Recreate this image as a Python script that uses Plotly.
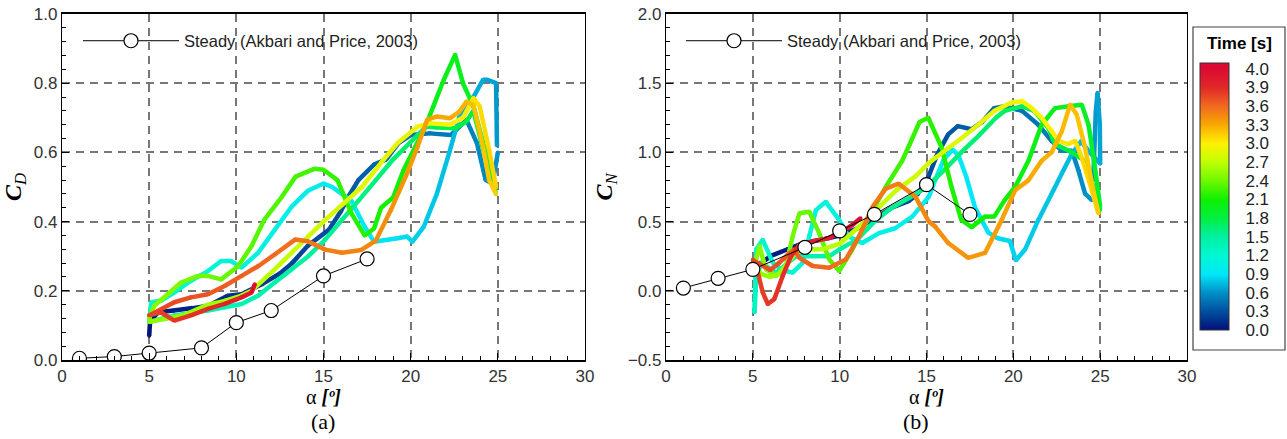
import numpy as np
import plotly.graph_objects as go

# ---------------- data ----------------
TIME_LABELS = ["0.0", "0.3", "0.6", "0.9", "1.2", "1.5", "1.8", "2.1",
               "2.4", "2.7", "3.0", "3.3", "3.6", "3.9", "4.0"]
TIME_LEVELS = [0.0, 0.3, 0.6, 0.9, 1.2, 1.5, 1.8, 2.1, 2.4, 2.7, 3.0, 3.3, 3.6, 3.9, 4.0]
LEVEL_COLORS = ["#02107A", "#00509E", "#0090C8", "#00E8F8", "#00F8D0", "#00F0A0",
                "#00F040", "#10F000", "#70F800", "#C0FF00", "#FFF000", "#F8A800",
                "#F06820", "#E02828", "#DC0A32"]

STEADY_ALPHA = [1, 3, 5, 8, 10, 12, 15, 17.5]
STEADY_CD = [0.005, 0.01, 0.02, 0.035, 0.108, 0.143, 0.243, 0.292]
STEADY_CN = [0.02, 0.09, 0.155, 0.314, 0.433, 0.552, 0.767, 0.552]

# time span of each pitching stroke [s]
STROKE_T0 = [0.00, 0.62, 1.25, 1.88, 2.50, 3.13, 3.76]
STROKE_T1 = [0.62, 1.25, 1.88, 2.50, 3.13, 3.76, 4.00]

# ---- drag coefficient, one list per stroke ----
CD_A1 = [5.0, 5.05, 5.5, 6.4, 7.5, 8.4, 9.5, 10.3, 11.5, 12.5, 13.2, 14.1, 15.3, 16.0, 16.4,
         17.0, 17.9, 18.6, 19.3, 20.0, 21.1, 22.3, 23.2, 23.8, 24.3, 24.7, 25.0]
CD_1 = [0.07, 0.11, 0.138, 0.143, 0.15, 0.157, 0.186, 0.19, 0.22, 0.25, 0.28, 0.33, 0.376, 0.43,
        0.47, 0.52, 0.565, 0.58, 0.627, 0.65, 0.655, 0.65, 0.694, 0.627, 0.52, 0.51, 0.6]
CD_A2 = [24.95, 24.9, 24.4, 24.15, 23.6, 22.8, 22.26, 21.5, 20.75, 20.1, 19.8, 19.25, 17.9, 17.36,
         16.6, 15.5, 15.0, 14.13, 13.17, 12.2, 11.25, 10.3, 9.7, 9.13, 8.37, 7.4, 6.44, 5.67, 5.1]
CD_2 = [0.62, 0.8, 0.81, 0.81, 0.76, 0.704, 0.607, 0.48, 0.385, 0.342, 0.357, 0.352, 0.342, 0.385,
        0.46, 0.5, 0.51, 0.49, 0.443, 0.376, 0.31, 0.267, 0.286, 0.286, 0.257, 0.229, 0.195, 0.171, 0.167]
CD_A3 = [5.1, 5.0, 6.44, 8.37, 10.3, 11.25, 12.2, 13.17, 14.13, 15.1, 16.06, 17.0, 18.0, 19.0,
         20.0, 20.9, 21.5, 22.6, 23.2, 23.6, 24.2, 24.9]
CD_3 = [0.16, 0.11, 0.129, 0.143, 0.162, 0.186, 0.224, 0.262, 0.3, 0.348, 0.405, 0.46, 0.52, 0.58,
        0.63, 0.675, 0.672, 0.67, 0.69, 0.72, 0.6, 0.5]
CD_A4 = [24.9, 24.3, 23.6, 23.0, 22.55, 21.9, 21.3, 20.85, 20.3, 19.6, 19.0, 18.3, 17.9, 17.36,
         16.6, 15.8, 15.0, 14.5, 13.4, 12.6, 11.6, 10.87, 10.1, 9.13, 8.37, 7.8, 6.83, 6.06, 5.29, 5.0]
CD_4 = [0.48, 0.6, 0.733, 0.8, 0.882, 0.81, 0.733, 0.675, 0.62, 0.55, 0.47, 0.44, 0.38, 0.36,
        0.424, 0.52, 0.55, 0.553, 0.53, 0.471, 0.405, 0.329, 0.271, 0.233, 0.243, 0.243, 0.224,
        0.19, 0.157, 0.12]
CD_A5 = [5.0, 6.0, 7.0, 8.37, 9.33, 10.3, 10.87, 12.2, 13.17, 14.13, 15.1, 16.06, 17.2, 18.3,
         19.25, 20.4, 21.1, 22.26, 23.0, 23.6, 23.96, 24.5, 24.9]
CD_5 = [0.11, 0.12, 0.13, 0.16, 0.171, 0.186, 0.2, 0.262, 0.31, 0.357, 0.405, 0.448, 0.5, 0.57,
        0.627, 0.675, 0.684, 0.68, 0.7, 0.757, 0.733, 0.607, 0.5]
CD_A6 = [24.9, 24.5, 24.15, 23.6, 23.2, 22.8, 22.26, 21.5, 20.94, 20.4, 19.8, 18.87, 18.0, 17.17,
         16.06, 15.1, 14.1, 13.37, 12.2, 11.25, 10.3, 9.33, 8.37, 7.4, 6.44, 5.0]
CD_6 = [0.48, 0.52, 0.617, 0.737, 0.747, 0.718, 0.699, 0.704, 0.694, 0.617, 0.54, 0.434, 0.345,
        0.318, 0.31, 0.319, 0.343, 0.348, 0.305, 0.271, 0.243, 0.214, 0.19, 0.181, 0.167, 0.129]
CD_A7 = [5.0, 5.67, 6.44, 7.4, 8.37, 9.33, 10.3, 10.87, 11.06]
CD_7 = [0.129, 0.138, 0.114, 0.129, 0.148, 0.162, 0.181, 0.195, 0.219]

# ---- normal force coefficient, one list per stroke ----
CN_A1 = [5.0, 5.5, 6.0, 7.0, 8.0, 9.0, 10.0, 11.0, 12.0, 13.0, 14.0, 14.5, 15.1, 15.6, 16.25,
         16.8, 17.6, 18.2, 18.9, 19.5, 20.5, 21.44, 22.2, 22.8, 23.37, 23.75, 24.13, 24.52]
CN_1 = [0.2, 0.2, 0.25, 0.3, 0.35, 0.37, 0.4, 0.45, 0.52, 0.6, 0.65, 0.7, 0.82, 0.98, 1.13,
        1.19, 1.167, 1.22, 1.32, 1.333, 1.3, 1.2, 1.083, 1.012, 1.012, 0.869, 0.702, 0.655]
CN_A2 = [24.6, 24.75, 24.85, 24.98, 25.0, 24.4, 23.9, 23.37, 22.8, 22.2, 21.44, 20.67, 20.15,
         19.8, 19.1, 18.56, 17.8, 17.3, 16.84, 16.5, 16.0, 15.5, 15.13, 14.18, 13.2, 12.27, 11.3,
         10.5, 9.97, 9.2, 8.63, 8.25, 7.87, 7.29, 6.7, 6.15, 5.57, 5.19]
CN_2 = [0.8, 1.3, 1.43, 1.2, 0.92, 1.0, 1.08, 0.99, 0.85, 0.70, 0.512, 0.298, 0.22, 0.36, 0.38,
        0.42, 0.6, 0.82, 0.98, 1.02, 0.95, 0.8, 0.679, 0.536, 0.452, 0.417, 0.345, 0.393, 0.512,
        0.643, 0.583, 0.393, 0.202, 0.131, 0.15, 0.202, 0.369, 0.298]
CN_A3 = [5.19, 5.1, 5.19, 5.5, 6.34, 7.0, 7.49, 8.44, 9.4, 10.0, 11.0, 12.0, 13.0, 14.0, 15.0,
         16.0, 17.0, 18.0, 19.0, 19.5, 20.5, 21.2, 22.0, 22.4, 23.2, 24.0, 24.5, 25.0]
CN_3 = [0.3, -0.155, 0.107, 0.2, 0.131, 0.2, 0.25, 0.25, 0.25, 0.3, 0.37, 0.5, 0.6, 0.67, 0.75,
        0.87, 1.0, 1.12, 1.25, 1.3, 1.333, 1.3, 1.18, 1.06, 1.012, 0.95, 0.8, 0.583]
CN_A4 = [25.0, 24.7, 24.33, 23.94, 23.2, 22.4, 21.63, 20.87, 20.1, 19.5, 18.9, 18.37, 17.6, 17.0,
         16.44, 15.87, 15.1, 14.6, 14.0, 13.6, 12.65, 11.7, 10.73, 9.97, 9.4, 8.82, 8.25, 7.68,
         7.29, 6.91, 6.34, 5.76, 5.38, 5.1]
CN_4 = [0.607, 0.893, 1.2, 1.345, 1.333, 1.32, 1.2, 0.94, 0.75, 0.655, 0.536, 0.536, 0.46, 0.512,
        0.75, 1.036, 1.25, 1.22, 1.05, 0.94, 0.75, 0.536, 0.298, 0.143, 0.226, 0.417, 0.571, 0.56,
        0.393, 0.179, 0.107, 0.155, 0.321, 0.179]
CN_A5 = [5.1, 5.5, 6.0, 6.5, 7.0, 7.5, 8.0, 9.0, 10.0, 11.0, 12.0, 13.2, 14.4, 15.1, 15.5, 16.25,
         17.0, 17.98, 18.9, 19.9, 20.5, 21.06, 21.63, 22.2, 22.6, 23.17, 23.56, 23.94, 24.52, 24.9]
CN_5 = [0.179, 0.12, 0.1, 0.12, 0.2, 0.28, 0.3, 0.3, 0.34, 0.45, 0.57, 0.72, 0.83, 0.92, 0.96,
        1.03, 1.1, 1.2, 1.3, 1.36, 1.37, 1.32, 1.25, 1.155, 1.083, 1.06, 1.083, 0.964, 0.726, 0.56]
CN_A6 = [24.9, 24.6, 24.13, 23.65, 23.27, 22.8, 22.2, 21.63, 20.87, 20.1, 19.33, 18.37, 17.4,
         16.25, 15.5, 15.13, 14.37, 13.4, 12.65, 11.9, 11.12, 10.35, 9.4, 8.44, 7.68, 7.39, 7.0,
         6.5, 6.0, 5.3, 5.0]
CN_6 = [0.56, 0.726, 1.036, 1.274, 1.345, 1.155, 1.0, 0.94, 0.798, 0.726, 0.512, 0.274, 0.238,
        0.345, 0.464, 0.5, 0.679, 0.774, 0.738, 0.607, 0.393, 0.226, 0.167, 0.179, 0.238, 0.298,
        0.26, 0.2, 0.15, 0.2, 0.22]
CN_A7 = [5.0, 5.29, 5.57, 5.86, 6.24, 6.72, 7.2, 7.68, 8.44, 9.4, 10.16, 10.73, 11.2]
CN_7 = [0.226, 0.131, -0.012, -0.095, -0.06, 0.107, 0.25, 0.333, 0.357, 0.381, 0.428, 0.476, 0.524]

CD_STROKES = [(CD_A1, CD_1), (CD_A2, CD_2), (CD_A3, CD_3), (CD_A4, CD_4),
              (CD_A5, CD_5), (CD_A6, CD_6), (CD_A7, CD_7)]
CN_STROKES = [(CN_A1, CN_1), (CN_A2, CN_2), (CN_A3, CN_3), (CN_A4, CN_4),
              (CN_A5, CN_5), (CN_A6, CN_6), (CN_A7, CN_7)]

# ---------------- helpers ----------------
LEVEL_POS = list(range(len(TIME_LEVELS)))
RGB = [tuple(int(c[i:i + 2], 16) for i in (1, 3, 5)) for c in LEVEL_COLORS]


def time_color(t):
    p = float(np.interp(t, TIME_LEVELS, LEVEL_POS))
    i = min(int(np.floor(p)), len(RGB) - 2)
    f = p - i
    r, g, b = [round(RGB[i][k] * (1 - f) + RGB[i + 1][k] * f) for k in range(3)]
    return f"rgb({r},{g},{b})"


FONT_TXT = "Liberation Sans, Arial, sans-serif"
FONT_SERIF = "Liberation Serif, Times New Roman, serif"
LW = 4.5
W, H = 1287, 439

fig = go.Figure()

for strokes, xa, ya in [(CD_STROKES, "x", "y"), (CN_STROKES, "x2", "y2")]:
    for (a, c), t0, t1 in zip(strokes, STROKE_T0, STROKE_T1):
        n = len(a)
        for i in range(n - 1):
            tm = t0 + (t1 - t0) * (i + 0.5) / (n - 1)
            col = time_color(tm)
            fig.add_trace(go.Scatter(
                x=a[i:i + 2], y=c[i:i + 2], xaxis=xa, yaxis=ya,
                mode="lines+markers", line=dict(color=col, width=LW),
                marker=dict(color=col, size=LW - 0.5),
                showlegend=False, hoverinfo="skip"))

for vals, xa, ya, lg in [(STEADY_CD, "x", "y", "legend"), (STEADY_CN, "x2", "y2", "legend2")]:
    fig.add_trace(go.Scatter(
        x=STEADY_ALPHA, y=vals, xaxis=xa, yaxis=ya, legend=lg,
        name="Steady (Akbari and Price, 2003)",
        mode="lines+markers", line=dict(color="black", width=1),
        marker=dict(symbol="circle", size=14, color="white",
                    line=dict(color="black", width=1.2)),
        showlegend=True))

# colour bar (evenly spaced level labels, as in the original legend)
CB_MAX = len(TIME_LEVELS) - 1 + 0.3
fig.add_trace(go.Scatter(
    x=[None], y=[None], xaxis="x2", yaxis="y2", mode="markers", showlegend=False,
    marker=dict(
        color=[0], cmin=0, cmax=CB_MAX, showscale=True,
        colorscale=[[p / CB_MAX, c] for p, c in zip(LEVEL_POS, LEVEL_COLORS)] + [[1.0, LEVEL_COLORS[-1]]],
        colorbar=dict(
            tickvals=LEVEL_POS, ticktext=TIME_LABELS,
            ticks="outside", ticklen=13, tickcolor="rgba(0,0,0,0)",
            tickfont=dict(family=FONT_TXT, size=17, color="#222"),
            x=1200 / W, xanchor="left", xpad=0,
            y=1 - 196.5 / H, yanchor="middle", ypad=0,
            thickness=29, thicknessmode="pixels",
            len=267, lenmode="pixels",
            outlinewidth=1, outlinecolor="#333",
            bgcolor="rgba(0,0,0,0)", borderwidth=0)),
    hoverinfo="skip"))

ydom = [1 - 360 / H, 1 - 14 / H]
grid = dict(showgrid=True, gridcolor="#777", gridwidth=1.5, griddash="8px,6px",
            zeroline=False, showline=True, linecolor="black", mirror=True,
            ticks="inside", tickcolor="black", ticklen=7,
            tickfont=dict(family=FONT_TXT, size=17, color="#333"))


def xax(dom):
    return dict(domain=dom, range=[0, 30], dtick=5, linewidth=2,
                minor=dict(ticks="inside", dtick=1, ticklen=4, tickcolor="black", showgrid=False),
                title=dict(text="α <b><i>[º]</i></b>", standoff=0,
                           font=dict(family=FONT_SERIF, size=20, color="black")),
                **grid)


def yax(rng, dt, mdt, label, anchor):
    return dict(domain=ydom, range=rng, dtick=dt, tickformat=".1f", linewidth=1.2,
                anchor=anchor,
                minor=dict(ticks="inside", dtick=mdt, ticklen=4, tickcolor="black", showgrid=False),
                title=dict(text=label, standoff=8,
                           font=dict(family=FONT_SERIF, size=24, color="black")),
                **grid)


LEG = dict(xanchor="left", y=1 - 41 / H, yanchor="middle",
           bgcolor="rgba(0,0,0,0)", itemwidth=96,
           font=dict(family=FONT_TXT, size=16.5, color="#222"))

fig.update_layout(
    width=W, height=H, autosize=False,
    margin=dict(l=0, r=0, t=0, b=0, autoexpand=False),
    paper_bgcolor="white", plot_bgcolor="white",
    xaxis=dict(anchor="y", **xax([62 / W, 585 / W])),
    yaxis=yax([0, 1.0], 0.2, 0.04, "<b><i>C</i></b><sub><i>D</i></sub>", "x"),
    xaxis2=dict(anchor="y2", **xax([666 / W, 1187 / W])),
    yaxis2=yax([-0.5, 2.0], 0.5, 0.1, "<b><i>C</i></b><sub><i>N</i></sub>", "x2"),
    legend=dict(x=78 / W, **LEG),
    legend2=dict(x=681 / W, **LEG),
    shapes=[dict(type="rect", xref="paper", yref="paper",
                 x0=1193 / W, x1=1285 / W, y0=1 - 350 / H, y1=1 - 27 / H,
                 line=dict(color="#444", width=1.2), fillcolor="rgba(0,0,0,0)", layer="below")],
    annotations=[
        dict(text="<b>Time [s]</b>", x=1239 / W, y=1 - 43 / H, xref="paper", yref="paper",
             xanchor="center", yanchor="middle", showarrow=False,
             font=dict(family=FONT_TXT, size=17, color="black")),
        dict(text="(a)", x=323 / W, y=1 - 421 / H, xref="paper", yref="paper",
             xanchor="center", yanchor="middle",
             showarrow=False, font=dict(family=FONT_SERIF, size=22, color="black")),
        dict(text="(b)", x=916 / W, y=1 - 421 / H, xref="paper", yref="paper",
             xanchor="center", yanchor="middle",
             showarrow=False, font=dict(family=FONT_SERIF, size=22, color="black")),
    ],
)

fig.write_html("out.html")
